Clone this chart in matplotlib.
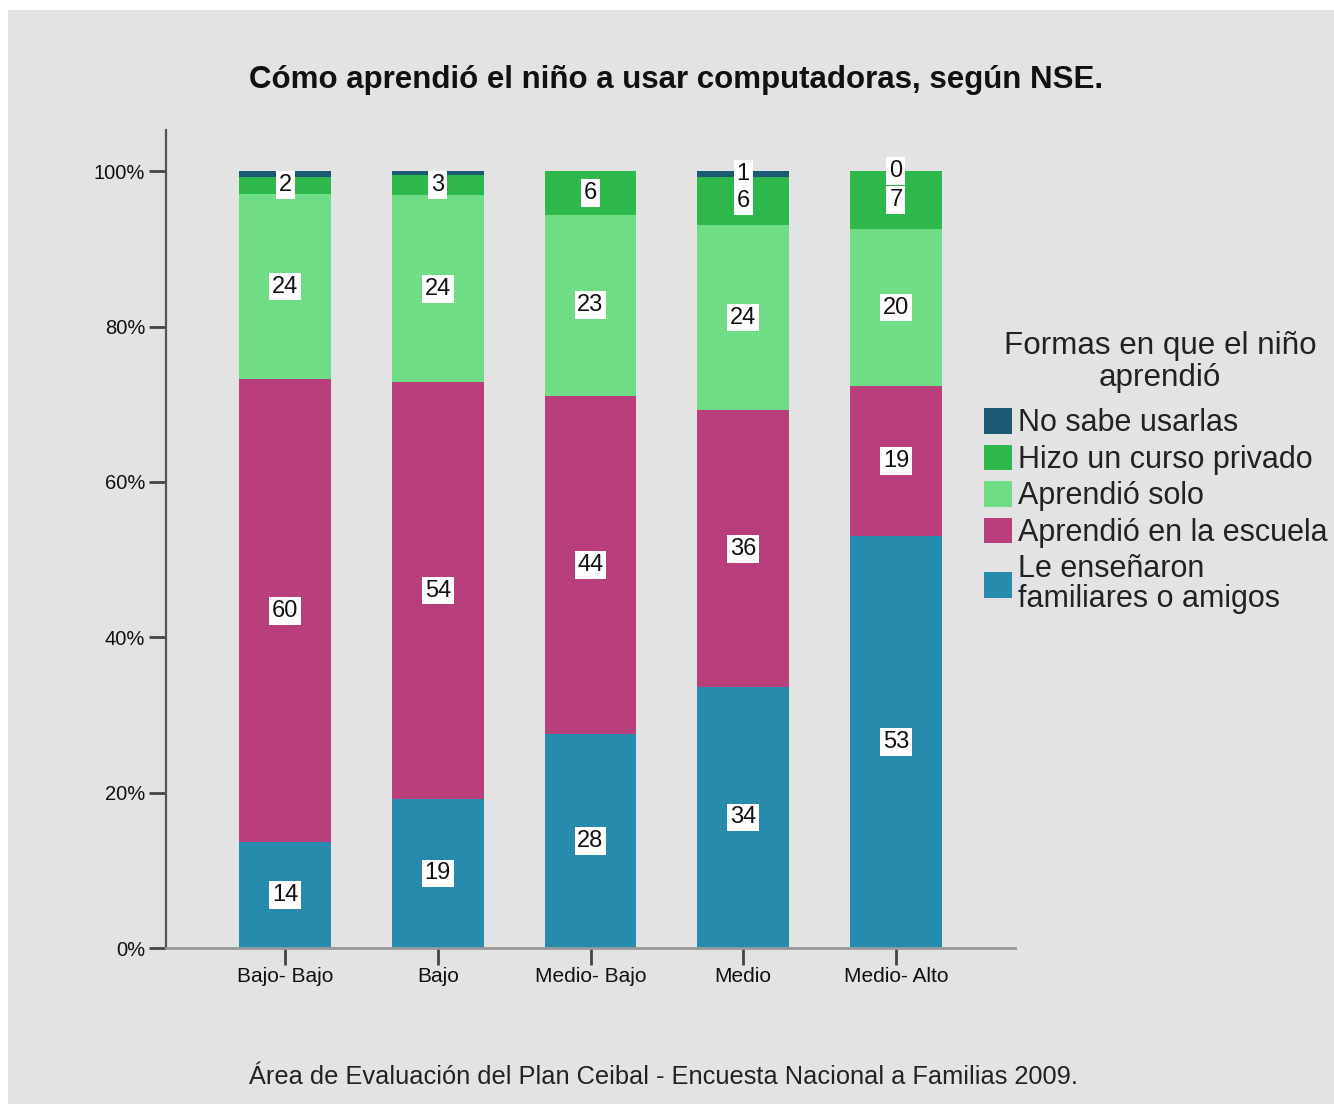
import matplotlib
matplotlib.use("Agg")
import matplotlib.pyplot as plt
from matplotlib.patches import Rectangle, Patch

plt.rcParams['font.family'] = ['Liberation Sans', 'DejaVu Sans']

categories = ["Bajo- Bajo", "Bajo", "Medio- Bajo", "Medio", "Medio- Alto"]

# stack order bottom -> top
familiares = [13.6, 19.2, 27.5, 33.6, 53.0]
escuela = [59.6, 53.6, 43.6, 35.6, 19.3]
solo = [23.9, 24.1, 23.3, 23.9, 20.3]
curso = [2.2, 2.6, 5.6, 6.1, 7.4]
no_sabe = [0.7, 0.5, 0.0, 0.8, 0.0]

series_names = ["Le enseñaron\nfamiliares o amigos", "Aprendió en la escuela",
                "Aprendió solo", "Hizo un curso privado", "No sabe usarlas"]
series_values = [familiares, escuela, solo, curso, no_sabe]
series_colors = ["#268BAC", "#B93E7C", "#6EDD86", "#2EB84C", "#1B5A73"]
show_labels = [
    [True] * 5,
    [True] * 5,
    [True] * 5,
    [True] * 5,
    [False, False, False, True, True],
]

yticks = [0, 20, 40, 60, 80, 100]
ytick_labels = ["0%", "20%", "40%", "60%", "80%", "100%"]

fig = plt.figure(figsize=(13.34, 11.04), dpi=100, facecolor="white")
bg = Rectangle((8 / 1334, 0), 1, 1 - 10 / 1104, transform=fig.transFigure,
               facecolor="#E3E3E3", edgecolor="none", zorder=-10)
fig.patches.append(bg)

ax = fig.add_axes([166 / 1334, 1 - 948 / 1104, (1015 - 166) / 1334, (948 - 130) / 1104])
ax.set_facecolor("none")

x = list(range(len(categories)))
bottoms = [0.0] * len(categories)
for name, vals, col, flags in zip(series_names, series_values, series_colors, show_labels):
    ax.bar(x, vals, width=0.6, bottom=bottoms, color=col, edgecolor="none", zorder=2)
    for i, v in enumerate(vals):
        if flags[i]:
            ax.text(x[i], bottoms[i] + v / 2, f"{round(v):d}", ha="center", va="center",
                    fontsize=17, color="#111111", zorder=5,
                    bbox=dict(boxstyle="square,pad=0.12", facecolor="white", edgecolor="none"))
    bottoms = [b + v for b, v in zip(bottoms, vals)]

ax.set_xlim(-0.78, 4.78)
ax.set_ylim(0, 105.3)
ax.set_yticks(yticks)
ax.set_yticklabels(ytick_labels, fontsize=14.5)
ax.set_xticks(x)
ax.set_xticklabels(categories, fontsize=15)

for s in ["top", "right"]:
    ax.spines[s].set_visible(False)
ax.spines["left"].set_color("#555555")
ax.spines["left"].set_linewidth(1.6)
ax.spines["bottom"].set_color("#999999")
ax.spines["bottom"].set_linewidth(2.0)
ax.tick_params(axis="y", length=12, width=2, color="#444444", pad=3, labelcolor="#111111")
ax.tick_params(axis="x", length=12, width=2, color="#444444", pad=2, labelcolor="#111111")

fig.text(676 / 1334, 1 - 80 / 1104, "Cómo aprendió el niño a usar computadoras, según NSE.",
         ha="center", va="center", fontsize=22.5, fontweight="bold", color="#111111")

fig.text(663 / 1334, 1 - 1077 / 1104,
         "Área de Evaluación del Plan Ceibal - Encuesta Nacional a Familias 2009.",
         ha="center", va="center", fontsize=18.3, color="#222222")

fig.text(1160 / 1334, 1 - 362 / 1104, "Formas en que el niño\naprendió",
         ha="center", va="center", multialignment="center", linespacing=1.08,
         fontsize=22.6, color="#222222")

handles = [Patch(facecolor=c, edgecolor="none") for c in series_colors[::-1]]
leg = fig.legend(handles, series_names[::-1], loc="upper left",
                 bbox_to_anchor=(984 / 1334, 1 - 408 / 1104), frameon=False,
                 fontsize=22, handlelength=0.92, handleheight=0.92,
                 handletextpad=0.2, labelspacing=0.2, borderpad=0, borderaxespad=0)
for t in leg.get_texts():
    t.set_color("#222222")
    t.set_linespacing(1.0)

fig.savefig("out.png", dpi=100, facecolor="white")
